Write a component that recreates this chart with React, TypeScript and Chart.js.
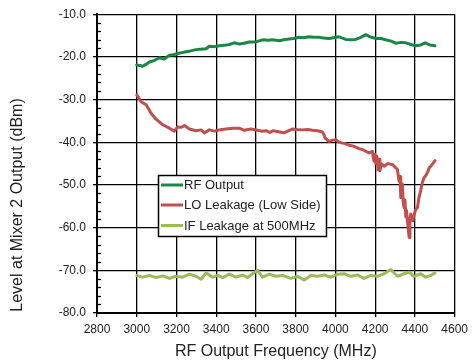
import React, { useEffect, useRef } from "react";
import { Chart, registerables } from "chart.js";

Chart.register(...registerables);

const xTicks = [2800, 3000, 3200, 3400, 3600, 3800, 4000, 4200, 4400, 4600];
const yTicks = [-80, -70, -60, -50, -40, -30, -20, -10];
const seriesNames = ["RF Output", "LO Leakage (Low Side)", "IF Leakage at 500MHz"];
const seriesColors = ["#1a8747", "#c0504d", "#9bbb59"];

const rfFreq = [3000, 3015, 3030, 3048, 3064, 3090, 3114, 3139, 3164, 3185, 3206, 3228, 3248, 3270, 3298, 3320, 3349, 3365, 3390, 3416, 3440, 3466, 3491, 3516, 3540, 3566, 3600, 3633, 3660, 3684, 3717, 3740, 3767, 3790, 3817, 3840, 3868, 3890, 3918, 3940, 3968, 3990, 4018, 4052, 4080, 4102, 4125, 4153, 4175, 4203, 4230, 4253, 4280, 4304, 4330, 4354, 4380, 4404, 4430, 4451, 4475, 4501];
const rfLevel = [-21.9, -22.0, -22.2, -21.7, -21.2, -20.8, -20.2, -20.5, -19.6, -19.5, -19.2, -19.0, -18.8, -18.6, -18.3, -18.2, -18.1, -17.5, -17.6, -17.4, -17.3, -17.1, -16.7, -17.0, -16.8, -16.5, -16.5, -16.0, -16.1, -16.0, -16.2, -16.0, -15.8, -15.7, -15.4, -15.5, -15.3, -15.4, -15.4, -15.6, -15.7, -15.5, -15.3, -15.9, -16.0, -15.9, -15.5, -14.8, -15.3, -15.7, -15.7, -16.0, -16.3, -16.8, -16.6, -16.7, -17.1, -17.4, -17.2, -16.7, -17.2, -17.4];

const loFreq = [3000, 3010, 3022, 3047, 3060, 3072, 3097, 3115, 3131, 3164, 3189, 3206, 3225, 3240, 3265, 3298, 3324, 3340, 3365, 3391, 3416, 3449, 3483, 3516, 3541, 3575, 3608, 3630, 3650, 3670, 3685, 3700, 3720, 3742, 3765, 3784, 3805, 3834, 3860, 3884, 3910, 3934, 3942, 3948, 3968, 3985, 4002, 4015, 4035, 4050, 4069, 4090, 4119, 4140, 4153, 4169, 4186, 4190, 4194, 4198, 4203, 4207, 4211, 4215, 4220, 4224, 4230, 4245, 4265, 4286, 4300, 4312, 4320, 4325, 4329, 4333, 4337, 4341, 4345, 4350, 4354, 4358, 4362, 4366, 4371, 4375, 4379, 4385, 4390, 4396, 4402, 4408, 4413, 4420, 4429, 4437, 4446, 4455, 4463, 4472, 4480, 4490, 4501];
const loLevel = [-28.9, -29.6, -30.5, -31.2, -32.2, -33.2, -34.6, -35.3, -35.9, -36.7, -37.4, -36.4, -36.5, -36.1, -36.9, -37.3, -37.1, -37.8, -37.1, -37.4, -37.1, -36.9, -36.7, -36.7, -37.2, -36.9, -37.2, -37.4, -37.3, -37.7, -37.3, -37.4, -37.6, -37.8, -37.3, -36.9, -37.0, -37.1, -37.0, -37.2, -37.3, -37.6, -38.2, -39.0, -39.8, -39.5, -39.4, -39.9, -40.2, -40.3, -40.7, -40.9, -41.5, -41.8, -42.1, -42.5, -42.1, -43.5, -44.4, -42.8, -45.0, -43.2, -44.0, -46.5, -44.0, -46.7, -45.0, -45.6, -45.0, -45.2, -45.8, -46.4, -49.1, -48.0, -53.0, -50.0, -49.8, -54.0, -55.3, -53.5, -57.5, -56.0, -58.4, -60.0, -62.3, -58.0, -56.8, -57.5, -58.4, -57.0, -56.0, -55.5, -55.3, -53.0, -51.4, -49.5, -48.3, -47.8, -47.1, -46.0, -45.6, -45.0, -44.3];

const ifFreq = [3000, 3030, 3064, 3097, 3131, 3164, 3198, 3231, 3265, 3298, 3324, 3349, 3382, 3407, 3432, 3466, 3500, 3533, 3558, 3583, 3608, 3633, 3667, 3700, 3734, 3776, 3809, 3843, 3876, 3910, 3943, 3977, 4010, 4044, 4077, 4111, 4144, 4178, 4211, 4245, 4278, 4312, 4345, 4371, 4395, 4429, 4454, 4480, 4501];
const ifLevel = [-71.2, -71.6, -71.2, -71.7, -71.3, -71.9, -71.4, -71.6, -70.9, -71.4, -72.1, -70.6, -71.6, -71.2, -71.7, -70.9, -71.6, -71.1, -71.7, -70.8, -70.0, -71.6, -70.9, -71.4, -71.2, -71.9, -71.4, -72.3, -71.2, -71.4, -71.1, -71.6, -70.9, -70.8, -71.4, -71.1, -71.9, -71.2, -71.4, -70.8, -69.8, -71.4, -70.8, -70.4, -71.4, -70.8, -71.6, -71.2, -70.6];

const FONT = "'Liberation Sans', Arial, sans-serif";

const overlayPlugin = {
  id: "overlay",
  afterDraw(chart: any) {
    const { ctx, chartArea, scales } = chart;
    const y = scales.y;
    const x = scales.x;
    ctx.save();
    ctx.strokeStyle = "#000";
    ctx.lineWidth = 1.3;
    for (let v = -80; v <= -10; v += 2) {
      if (v % 10 === 0) continue;
      const py = Math.round(y.getPixelForValue(v)) + 0.5;
      ctx.beginPath();
      ctx.moveTo(chartArea.left, py);
      ctx.lineTo(chartArea.left + 4, py);
      ctx.stroke();
    }
    ctx.fillStyle = "#222";
    ctx.font = `16px ${FONT}`;
    ctx.textAlign = "center";
    ctx.textBaseline = "middle";
    ctx.fillText("RF Output Frequency (MHz)", (x.left + x.right) / 2, 352);
    ctx.save();
    ctx.translate(18, 205);
    ctx.rotate(-Math.PI / 2);
    ctx.fillText("Level at Mixer 2 Output (dBm)", 0, 0);
    ctx.restore();
    const bx = 158.5, by = 175.5, bw = 168, bh = 61;
    ctx.fillStyle = "#fff";
    ctx.fillRect(bx, by, bw, bh);
    ctx.strokeStyle = "#000";
    ctx.lineWidth = 1.5;
    ctx.strokeRect(bx, by, bw, bh);
    const rows = [185, 205, 225.5];
    ctx.font = `13px ${FONT}`;
    ctx.textAlign = "left";
    ctx.textBaseline = "middle";
    seriesNames.forEach((name, i) => {
      ctx.strokeStyle = seriesColors[i];
      ctx.lineWidth = 3;
      ctx.beginPath();
      ctx.moveTo(161, rows[i]);
      ctx.lineTo(183, rows[i]);
      ctx.stroke();
      ctx.fillStyle = "#222";
      ctx.fillText(name, 184, rows[i] + 0.5);
    });
    ctx.restore();
  },
};

export default function App() {
  const ref = useRef<HTMLCanvasElement>(null);
  useEffect(() => {
    const mk = (xs: number[], ys: number[]) => xs.map((v, i) => ({ x: v, y: ys[i] }));
    const chart = new Chart(ref.current as HTMLCanvasElement, {
      type: "line",
      data: {
        datasets: [
          { label: seriesNames[0], data: mk(rfFreq, rfLevel), borderColor: seriesColors[0], borderWidth: 3, pointRadius: 0, tension: 0 },
          { label: seriesNames[1], data: mk(loFreq, loLevel), borderColor: seriesColors[1], borderWidth: 3, pointRadius: 0, tension: 0 },
          { label: seriesNames[2], data: mk(ifFreq, ifLevel), borderColor: seriesColors[2], borderWidth: 3, pointRadius: 0, tension: 0 },
        ],
      },
      options: {
        animation: false,
        responsive: false,
        devicePixelRatio: 1,
        layout: { padding: { top: 12, right: 17, left: 0, bottom: 0 } },
        plugins: { legend: { display: false }, tooltip: { enabled: false } },
        elements: { line: { borderJoinStyle: "round", borderCapStyle: "round" } },
        scales: {
          x: {
            type: "linear",
            min: 2800,
            max: 4600,
            afterBuildTicks: (s: any) => { s.ticks = xTicks.map((v) => ({ value: v })); },
            afterFit: (s: any) => { s.height = 47; },
            ticks: { font: { family: FONT, size: 12 }, color: "#222", padding: 5, maxRotation: 0, autoSkip: false, callback: (v: any) => String(v) },
            grid: { color: "#000", lineWidth: 1.3, tickLength: 4 },
            border: { color: "#000", width: 2 },
          },
          y: {
            type: "linear",
            min: -80,
            max: -10,
            afterBuildTicks: (s: any) => { s.ticks = yTicks.map((v) => ({ value: v })); },
            afterFit: (s: any) => { s.width = 97; },
            ticks: { font: { family: FONT, size: 12 }, color: "#222", padding: 7, autoSkip: false, callback: (v: any) => Number(v).toFixed(1) },
            grid: { color: "#000", lineWidth: 1.3, tickLength: 4 },
            border: { color: "#000", width: 2 },
          },
        },
      },
      plugins: [overlayPlugin],
    } as any);
    return () => chart.destroy();
  }, []);
  return (
    <div style={{ position: "fixed", left: 0, top: 0, width: 473, height: 360, background: "#fff" }}>
      <canvas ref={ref} width={473} height={360} style={{ display: "block" }} />
    </div>
  );
}
